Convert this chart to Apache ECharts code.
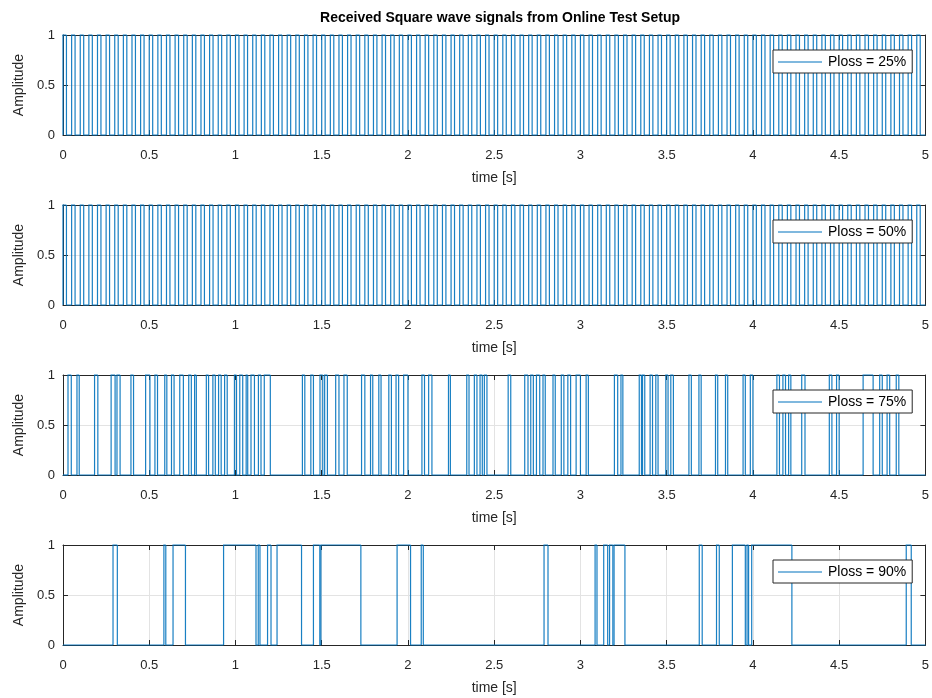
<!DOCTYPE html>
<html>
<head>
<meta charset="utf-8">
<script src="https://cdn.jsdelivr.net/npm/echarts@6/dist/echarts.min.js"></script>
<style>
  html, body { margin: 0; padding: 0; background: #fff; }
  #chart { width: 932px; height: 698px; }
</style>
</head>
<body>
<div id="chart"></div>
<script>
// Received square-wave signals: each list holds the toggle instants (s),
// the signal starts low at t = 0 and flips level at every entry.
const titleText = 'Received Square wave signals from Online Test Setup';
const seriesNames = ['Ploss = 25%', 'Ploss = 50%', 'Ploss = 75%', 'Ploss = 90%'];
const xTicks = [0, 0.5, 1, 1.5, 2, 2.5, 3, 3.5, 4, 4.5, 5];
const yTicks = [0, 0.5, 1];

const ploss25Edges = [
  0.00,0.02, 0.05,0.07, 0.10,0.12, 0.15,0.17, 0.20,0.22, 0.25,0.27, 0.30,0.32, 0.35,0.37, 0.40,0.42, 0.45,0.47,
  0.50,0.52, 0.55,0.57, 0.60,0.62, 0.65,0.67, 0.70,0.72, 0.75,0.77, 0.80,0.82, 0.85,0.87, 0.90,0.92, 0.95,0.97,
  1.00,1.02, 1.05,1.07, 1.10,1.12, 1.15,1.17, 1.20,1.22, 1.25,1.27, 1.30,1.32, 1.35,1.37, 1.40,1.42, 1.45,1.47,
  1.50,1.52, 1.55,1.57, 1.60,1.62, 1.65,1.67, 1.70,1.72, 1.75,1.77, 1.80,1.82, 1.85,1.87, 1.90,1.92, 1.95,1.97,
  2.00,2.02, 2.05,2.07, 2.10,2.12, 2.15,2.17, 2.20,2.22, 2.25,2.27, 2.30,2.32, 2.35,2.37, 2.40,2.42, 2.45,2.47,
  2.50,2.52, 2.55,2.57, 2.60,2.62, 2.65,2.67, 2.70,2.72, 2.75,2.77, 2.80,2.82, 2.85,2.87, 2.90,2.92, 2.95,2.97,
  3.00,3.02, 3.05,3.07, 3.10,3.12, 3.15,3.17, 3.20,3.22, 3.25,3.27, 3.30,3.32, 3.35,3.37, 3.40,3.42, 3.45,3.47,
  3.50,3.52, 3.55,3.57, 3.60,3.62, 3.65,3.67, 3.70,3.72, 3.75,3.77, 3.80,3.82, 3.85,3.87, 3.90,3.92, 3.95,3.97,
  4.00,4.02, 4.05,4.07, 4.10,4.12, 4.15,4.17, 4.20,4.22, 4.25,4.27, 4.30,4.32, 4.35,4.37, 4.40,4.42, 4.45,4.47,
  4.50,4.52, 4.55,4.57, 4.60,4.62, 4.65,4.67, 4.70,4.72, 4.75,4.77, 4.80,4.82, 4.85,4.87, 4.90,4.92, 4.95,4.97
];

const ploss50Edges = [
  0.00,0.02, 0.05,0.07, 0.10,0.12, 0.15,0.17, 0.20,0.22, 0.25,0.27, 0.30,0.32, 0.35,0.37, 0.40,0.42, 0.45,0.47,
  0.50,0.52, 0.55,0.57, 0.60,0.62, 0.65,0.67, 0.70,0.72, 0.75,0.77, 0.80,0.82, 0.85,0.87, 0.90,0.92, 0.95,0.97,
  1.00,1.02, 1.05,1.07, 1.10,1.12, 1.15,1.17, 1.20,1.22, 1.25,1.27, 1.30,1.32, 1.35,1.37, 1.40,1.42, 1.45,1.47,
  1.50,1.52, 1.55,1.57, 1.60,1.62, 1.65,1.67, 1.70,1.72, 1.75,1.77, 1.80,1.82, 1.85,1.87, 1.90,1.92, 1.95,1.97,
  2.00,2.02, 2.05,2.07, 2.10,2.12, 2.15,2.17, 2.20,2.22, 2.25,2.27, 2.30,2.32, 2.35,2.37, 2.40,2.42, 2.45,2.47,
  2.50,2.52, 2.55,2.57, 2.60,2.62, 2.65,2.67, 2.70,2.72, 2.75,2.77, 2.80,2.82, 2.85,2.87, 2.90,2.92, 2.95,2.97,
  3.00,3.02, 3.05,3.07, 3.10,3.12, 3.15,3.17, 3.20,3.22, 3.25,3.27, 3.30,3.32, 3.35,3.37, 3.40,3.42, 3.45,3.47,
  3.50,3.52, 3.55,3.57, 3.60,3.62, 3.65,3.67, 3.70,3.72, 3.75,3.77, 3.80,3.82, 3.85,3.87, 3.90,3.92, 3.95,3.97,
  4.00,4.02, 4.05,4.07, 4.10,4.12, 4.15,4.17, 4.20,4.22, 4.25,4.27, 4.30,4.32, 4.35,4.37, 4.40,4.42, 4.45,4.47,
  4.50,4.52, 4.55,4.57, 4.60,4.62, 4.65,4.67, 4.70,4.72, 4.75,4.77, 4.80,4.82, 4.85,4.87, 4.90,4.92, 4.95,4.97
];

const ploss75Edges = [
  0.029,0.048, 0.081,0.094, 0.183,0.202, 0.279,0.302, 0.313,0.331, 0.394,0.409, 0.479,0.504, 0.533,0.548,
  0.590,0.602, 0.629,0.644, 0.677,0.698, 0.729,0.744, 0.763,0.773, 0.831,0.844, 0.869,0.883, 0.902,0.917,
  0.937,0.952, 0.994,1.006, 1.025,1.042, 1.062,1.071, 1.090,1.110, 1.133,1.148, 1.167,1.202,
  1.388,1.402, 1.437,1.452, 1.490,1.506, 1.517,1.533, 1.581,1.600, 1.629,1.648,
  1.731,1.750, 1.783,1.796, 1.831,1.844, 1.889,1.904, 1.931,1.946, 1.975,2.000, 2.081,2.096, 2.120,2.139,
  2.235,2.246, 2.341,2.354, 2.385,2.400, 2.418,2.431, 2.443,2.458, 2.581,2.596, 2.677,2.696, 2.712,2.727,
  2.745,2.764, 2.783,2.796, 2.841,2.854, 2.889,2.904, 2.927,2.943, 2.975,3.000, 3.033,3.046, 3.197,3.216,
  3.235,3.246, 3.341,3.354, 3.360,3.373, 3.404,3.418, 3.437,3.450, 3.495,3.508, 3.524,3.539, 3.629,3.643,
  3.687,3.700, 3.783,3.796, 3.841,3.854, 3.943,3.956, 3.985,4.000, 4.139,4.154, 4.174,4.189, 4.207,4.220,
  4.283,4.302, 4.443,4.458, 4.485,4.500, 4.639,4.697, 4.735,4.750, 4.778,4.793, 4.831,4.846
];

const ploss90Edges = [
  0.290,0.315, 0.585,0.596, 0.638,0.710, 0.931,1.119, 1.132,1.142, 1.186,1.206, 1.241,1.383,
  1.452,1.489, 1.495,1.727, 1.937,2.015, 2.077,2.089, 2.789,2.812, 3.085,3.096, 3.135,3.158,
  3.169,3.188, 3.195,3.258, 3.689,3.706, 3.789,3.805, 3.881,3.956, 3.966,3.975, 3.993,4.226,
  4.889,4.918
];

const allEdges = [ploss25Edges, ploss50Edges, ploss75Edges, ploss90Edges];

// Split a toggle list into constant-level segments: [tStart, tEnd, level, previousLevel].
function waveSegments(edges, tEnd) {
  const segs = [];
  let level = 0, start = 0, prev = 0;
  edges.forEach(t => {
    segs.push([start, t, level, prev]);
    prev = level;
    level = 1 - level;
    start = t;
  });
  segs.push([start, tEnd, level, prev]);
  return segs;
}

const FONT = 'Liberation Sans, Arial, Helvetica, sans-serif';
const AXIS_COLOR = '#262626';
const LINE_COLOR = '#0072BD';
const GRID_COLOR = '#e3e3e3';
const plotLeft = 63, plotRight = 4, plotHeight = 100;
const plotTops = [35, 205, 375, 545];

// Each segment: vertical transition at its start, then the flat run.
function renderSegment(params, api) {
  const t0 = api.value(0), t1 = api.value(1), lvl = api.value(2), prev = api.value(3);
  const pts = [api.coord([t0, prev]), api.coord([t0, lvl]), api.coord([t1, lvl])];
  return {
    type: 'polyline',
    shape: { points: pts },
    style: { stroke: LINE_COLOR, lineWidth: 1.2, fill: null, opacity: 0.9 }
  };
}

const grid = [], xAxis = [], yAxis = [], series = [], legend = [];

plotTops.forEach((top, i) => {
  grid.push({ left: plotLeft, right: plotRight, top: top, height: plotHeight, containLabel: false });

  const tickStyle = { show: true, inside: true, length: 5, lineStyle: { color: AXIS_COLOR, width: 1 } };

  xAxis.push({
    type: 'value', gridIndex: i, min: xTicks[0], max: xTicks[xTicks.length - 1], interval: 0.5,
    axisLine: { show: true, onZero: false, lineStyle: { color: AXIS_COLOR, width: 1 } },
    axisTick: tickStyle,
    axisLabel: { color: AXIS_COLOR, fontSize: 13, fontFamily: FONT, margin: 14 },
    splitLine: { show: true, lineStyle: { color: GRID_COLOR, width: 1 } },
    name: 'time [s]', nameLocation: 'middle', nameGap: 36,
    nameTextStyle: { color: AXIS_COLOR, fontSize: 14, fontFamily: FONT }
  });
  xAxis.push({
    type: 'value', gridIndex: i, position: 'top', min: xTicks[0], max: xTicks[xTicks.length - 1], interval: 0.5,
    axisLine: { show: true, onZero: false, lineStyle: { color: AXIS_COLOR, width: 1 } },
    axisTick: tickStyle, axisLabel: { show: false }, splitLine: { show: false }
  });

  yAxis.push({
    type: 'value', gridIndex: i, min: yTicks[0], max: yTicks[yTicks.length - 1], interval: 0.5,
    axisLine: { show: true, onZero: false, lineStyle: { color: AXIS_COLOR, width: 1 } },
    axisTick: tickStyle,
    axisLabel: { color: AXIS_COLOR, fontSize: 13, fontFamily: FONT, margin: 8 },
    splitLine: { show: true, lineStyle: { color: GRID_COLOR, width: 1 } },
    name: 'Amplitude', nameLocation: 'middle', nameGap: 34, nameRotate: 90,
    nameTextStyle: { color: AXIS_COLOR, fontSize: 14, fontFamily: FONT }
  });
  yAxis.push({
    type: 'value', gridIndex: i, position: 'right', min: yTicks[0], max: yTicks[yTicks.length - 1], interval: 0.5,
    axisLine: { show: true, onZero: false, lineStyle: { color: AXIS_COLOR, width: 1 } },
    axisTick: tickStyle, axisLabel: { show: false }, splitLine: { show: false }
  });

  series.push({
    name: seriesNames[i], type: 'custom',
    xAxisIndex: 2 * i, yAxisIndex: 2 * i,
    data: waveSegments(allEdges[i], xTicks[xTicks.length - 1]),
    encode: { x: [0, 1], y: [2, 3] },
    renderItem: renderSegment,
    itemStyle: { color: LINE_COLOR },
    silent: true,
    z: 3
  });

  legend.push({
    data: [seriesNames[i]], left: 773, top: top + 15,
    backgroundColor: '#ffffff', borderColor: AXIS_COLOR, borderWidth: 1,
    padding: [5, 6, 4, 5], itemGap: 5,
    icon: 'rect', itemWidth: 44, itemHeight: 1.2,
    textStyle: { color: '#000', fontSize: 14, fontFamily: FONT, padding: [0, 0, 0, 1] },
    selectedMode: false
  });
});

const chart = echarts.init(document.getElementById('chart'), null, { renderer: 'canvas' });
chart.setOption({
  animation: false,
  backgroundColor: '#ffffff',
  title: {
    text: titleText, left: 495, top: 6, textAlign: 'center',
    textStyle: { color: '#000', fontSize: 14, fontWeight: 'bold', fontFamily: FONT }
  },
  grid, xAxis, yAxis, series, legend
});
</script>
</body>
</html>
